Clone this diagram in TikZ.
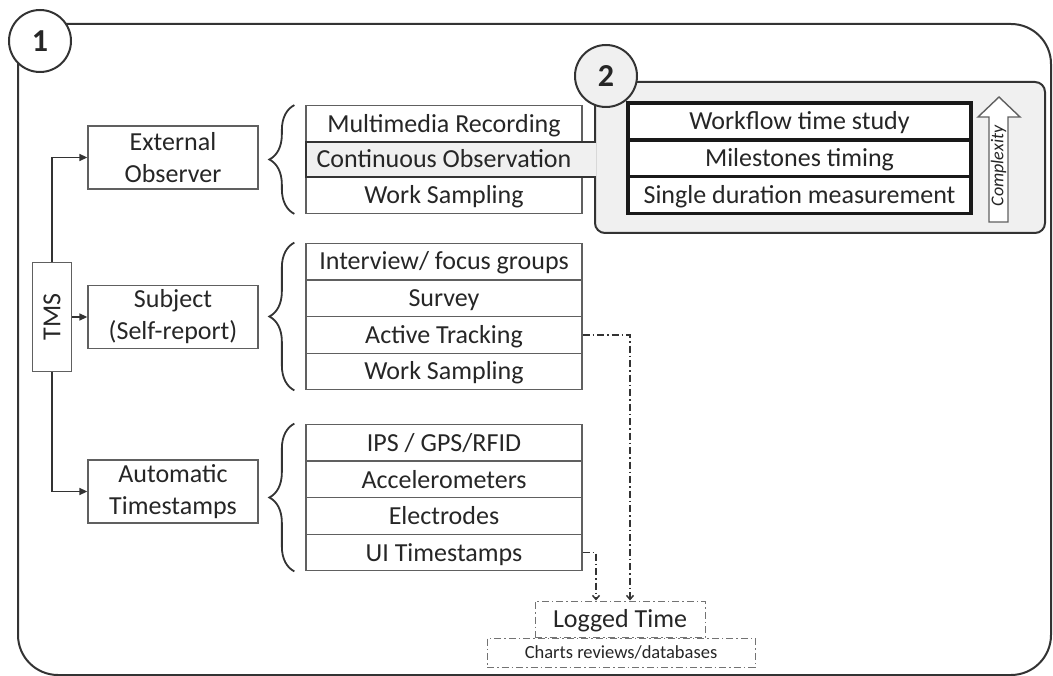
\documentclass[tikz,border=0pt]{standalone}
\usepackage{fontspec}
\setmainfont{Carlito}
\usepackage{tikz}
\usetikzlibrary{arrows.meta,decorations.pathreplacing}
\definecolor{lne}{HTML}{333333}
\definecolor{bx}{HTML}{606060}
\definecolor{grp}{HTML}{F0F0F0}
\definecolor{ink}{HTML}{262626}

\begin{document}
\begin{tikzpicture}
		[x=1pt,y=-1pt,
		>={Triangle[length=8pt,width=7pt]},
		f/.style={font=\fontsize{26}{32}\selectfont,text=ink},
		one/.style={text height=17pt,text depth=0pt},
		row/.style={f,one,draw=bx,line width=1.3,minimum width=276,minimum height=36.5,inner sep=0},
		cat/.style={f,draw=bx,line width=1.3,minimum width=170,minimum height=63,align=center,inner sep=0},
		lvl/.style={f,one,draw=black!90,line width=3.5,fill=white,minimum width=343,minimum height=37,inner sep=0},
		num/.style={circle,draw=lne,line width=2,minimum size=62,inner sep=0,font=\fontsize{32}{32}\selectfont\bfseries,text=ink},
		br/.style={decorate,decoration={brace,amplitude=25},draw=lne,line width=1.8},
		con/.style={<-,draw=lne,line width=1.5},
		dd/.style={dash pattern=on 7pt off 3pt on 1.5pt off 3pt},
		lg/.style={-{Straight Barb[length=4pt,width=7pt]},dd,draw=lne,line width=1.5},
		src/.style={dd,draw=black!55,line width=1,inner sep=0}]

		\useasboundingbox (0,0) rectangle (1053,676);
		\draw[draw=lne,line width=2,rounded corners=40] (18,24) rectangle (1051,675);
		\node[num,fill=white] (c1) at (40,41) {1};

		\node[row] (mm) at (444,124) {Multimedia Recording};
		\node[row] (ws1) at (444,195) {Work Sampling};
		\node[row] (int) at (444,261.5) {Interview/ focus groups};
		\node[row] (srv) at (444,298.5) {Survey};
		\node[row] (act) at (444,335) {Active Tracking};
		\node[row] (ws2) at (444,371.5) {Work Sampling};
		\node[row] (ips) at (444,442.5) {IPS / GPS/RFID};
		\node[row] (acc) at (444,479.5) {Accelerometers};
		\node[row] (ele) at (444,516) {Electrodes};
		\node[row] (ui) at (444,552.5) {UI Timestamps};

		\draw[draw=lne,line width=2,fill=grp,rounded corners=10] (595,82) rectangle (1045,233);
		\fill[grp] (306,142) rectangle (596,177);
		\draw[draw=lne,line width=2.5] (596,142) -- (306,142) -- (306,177) -- (596,177);
		\node[row,draw=none] (cont) at (444,159.5) {Continuous Observation};
		\node[num,fill=grp] (c2) at (606,76) {2};

		\node[lvl] (wf) at (799.5,121.5) {Workflow time study};
		\node[lvl] (ms) at (799.5,158.5) {Milestones timing};
		\node[lvl] (sd) at (799.5,195) {Single duration measurement};

		\draw[draw=bx,line width=1.4,fill=white] (989,222) -- (989,117) -- (978,117) -- (999,97) -- (1020,117) -- (1008,117) -- (1008,222) -- cycle;
		\node[rotate=90,font=\fontsize{18}{18}\selectfont\itshape,text=ink] (cx) at (998.5,166) {Complexity};

		\node[cat,minimum width=38.5,minimum height=109] (tms) at (52,317) {\rotatebox{90}{TMS}};

		\node[cat] (ext) at (173,157.5) {External\\Observer}
			edge [con, to path={-| (\tikztotarget)}] (tms.north)
		;

		\node[cat] (subj) at (173,317) {Subject\\(Self-report)}
			edge [con] (tms)
		;

		\node[cat] (auto) at (173,491.5) {Automatic\\Timestamps}
			edge [con, to path={-| (\tikztotarget)}] (tms.south)
		;

		\draw[br] ([xshift=-11pt]ws1.south west) -- ([xshift=-11pt]mm.north west);
		\draw[br] ([xshift=-11pt]ws2.south west) -- ([xshift=-11pt]int.north west);
		\draw[br] ([xshift=-11pt]ui.south west) -- ([xshift=-11pt]ips.north west);

		\node[src,f,one,minimum width=170,minimum height=36] (log) at (620,619) {Logged Time};
		\node[src,font=\fontsize{18.5}{20}\selectfont,text=ink,text height=12pt,text depth=0pt,minimum width=268,minimum height=29] (chart) at (621,652.5) {Charts reviews/databases};

		\draw[lg] (act.east) -| ([xshift=10pt]log.north);
		\draw[lg] (ui.east) -| ([xshift=-24pt]log.north);
\end{tikzpicture}
\end{document}
